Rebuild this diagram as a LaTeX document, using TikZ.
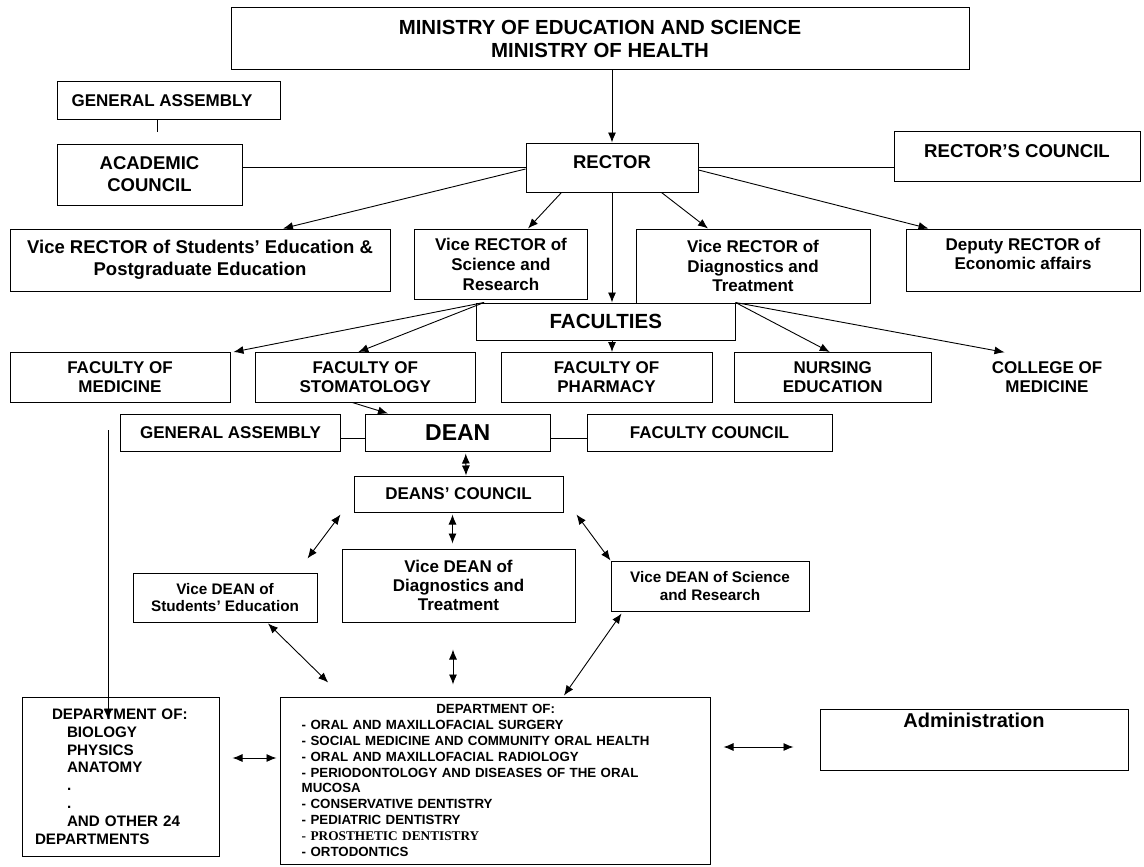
\documentclass[tikz,border=0pt]{standalone}
\usepackage{fontspec}
\setmainfont{Liberation Sans}
\newfontfamily\prosth{Liberation Serif}
\usetikzlibrary{arrows.meta,calc}
\begin{document}
\begin{tikzpicture}[x=1pt,y=-1pt,
  box/.style={draw,line width=1pt,inner sep=0pt,align=center},
  fsz/.style 2 args={font=\bfseries\fontsize{#1}{#2}\selectfont},
  wh/.style 2 args={minimum width=#1pt,minimum height=#2pt},
  conn/.style={line width=0.9pt},
  arr/.style={conn,-{Latex[length=10pt,width=8pt]}},
  darr/.style={conn,{Latex[length=10pt,width=8pt]}-{Latex[length=10pt,width=8pt]}}
]
\useasboundingbox (0,0) rectangle (1144,867);
\fill[white] (0,0) rectangle (1144,867);

% ---------- nodes ----------
\node[box,wh={738}{62},fsz={20.4}{23}] (min) at (600,39) {MINISTRY OF EDUCATION AND SCIENCE\\MINISTRY OF HEALTH};
\node[box,wh={223}{37},fsz={17}{20}] (ga1) at (168.5,100.5) {\hspace*{-13pt}GENERAL ASSEMBLY};
\node[box,wh={185}{61},fsz={18.5}{22}] (ac) at (149.5,174.5) {ACADEMIC\\COUNCIL};
\node[box,wh={172}{49},fsz={18.5}{22}] (rector) at (612,167.5) {\raisebox{5pt}[\height][\depth]{RECTOR}};
\node[box,wh={246}{50},fsz={18.6}{22}] (rc) at (1017,156) {\raisebox{5pt}[\height][\depth]{RECTOR’S COUNCIL}};

\node[box,wh={380}{62},fsz={18.5}{22}] (vrs) at (200,260) {Vice RECTOR of Students’ Education \&\\Postgraduate Education};
\node[box,wh={172.5}{70},fsz={17}{20}] (vrsci) at (501,264) {Vice RECTOR of\\Science and\\Research};
\node[box,wh={234}{74},fsz={17}{19.5}] (vrd) at (753,266) {Vice RECTOR of\\Diagnostics and\\Treatment};
\node[box,wh={234}{62},fsz={17}{19}] (dep) at (1023,260) {\raisebox{3.5pt}[\height][\depth]{\begin{tabular}{@{}c@{}}Deputy RECTOR of\\Economic affairs\end{tabular}}};

\node[box,wh={258.5}{37},fsz={20.5}{24}] (facs) at (605.75,321.5) {FACULTIES};
\node[box,wh={220}{49.5},fsz={17}{19}] (fmed) at (120,377.25) {FACULTY OF\\MEDICINE};
\node[box,wh={219.4}{49.5},fsz={17}{19}] (fsto) at (365.3,377.25) {FACULTY OF\\STOMATOLOGY};
\node[box,wh={211}{49.5},fsz={17}{19}] (fph) at (606.5,377.25) {FACULTY OF\\PHARMACY};
\node[box,wh={196.5}{49.5},fsz={17}{19}] (nur) at (832.75,377.25) {NURSING\\EDUCATION};
\node[inner sep=0pt,align=center,wh={196}{49.5},fsz={17}{19}] (col) at (1047,377.25) {COLLEGE OF\\MEDICINE};

\node[box,wh={220}{37},fsz={17}{20}] (ga2) at (230.5,432.5) {GENERAL ASSEMBLY};
\node[box,wh={184.5}{37},fsz={23}{26}] (dean) at (457.75,432.5) {DEAN};
\node[box,wh={245}{37},fsz={17}{20}] (fc) at (709.5,432.5) {FACULTY COUNCIL};
\node[box,wh={209}{36},fsz={17}{20}] (dc) at (458.5,494) {DEANS’ COUNCIL};

\node[box,wh={233}{73},fsz={17}{19}] (vdd) at (458.5,585.5) {Vice DEAN of\\Diagnostics and\\Treatment};
\node[box,wh={184}{49},fsz={15.3}{17}] (vdst) at (225,597.5) {Vice DEAN of\\Students’ Education};
\node[box,wh={198}{50},fsz={15.3}{18}] (vdsc) at (710,586) {Vice DEAN of Science\\and Research};

\node[box,wh={197}{159},fsz={15.2}{17.8},align=left,text width=171pt] (dl) at (120.5,776.5)
 {\hspace*{17pt}DEPARTMENT OF:\\
  \hspace*{32pt}BIOLOGY\\
  \hspace*{32pt}PHYSICS\\
  \hspace*{32pt}ANATOMY\\
  \hspace*{32pt}.\\
  \hspace*{32pt}.\\
  \hspace*{32pt}AND OTHER 24\\
  DEPARTMENTS};
\node[box,wh={430}{167},fsz={13.3}{15.8},align=left,text width=388pt] (dm) at (495.7,780.5)
 {\makebox[388pt]{DEPARTMENT OF:}\\
  - ORAL AND MAXILLOFACIAL SURGERY\\
  - SOCIAL MEDICINE AND COMMUNITY ORAL HEALTH\\
  - ORAL AND MAXILLOFACIAL RADIOLOGY\\
  - PERIODONTOLOGY AND DISEASES OF THE ORAL\\
  MUCOSA\\
  - CONSERVATIVE DENTISTRY\\
  - PEDIATRIC DENTISTRY\\
  {\prosth\bfseries - PROSTHETIC DENTISTRY}\\
  - ORTODONTICS};
\node[box,wh={308}{61},fsz={20}{24}] (adm) at (974,739.5) {\raisebox{19.5pt}[\height][\depth]{Administration}};

\coordinate (stub) at (157,132);
\coordinate (gl) at (108,430);
\coordinate (fs) at ($(facs.south)+(6.25,0)$);

% ---------- connectors ----------
\draw[conn] ($(ga1.south)+(-11.5,0)$) -- (stub);
\draw[arr] (rector.north |- min.south) -- (rector.north);
\draw[conn] (ac.east |- rector.west) -- (rector.west);
\draw[conn] (rector.east) -- (rc.west |- rector.east);
\draw[arr] ($(rector.west)+(0,1.5)$) -- ($(vrs.north)+(83,0)$);
\draw[arr] ($(rector.south west)+(36,0)$) -- ($(vrsci.north)+(27,0)$);
\draw[arr] (rector.south) -- (rector.south |- facs.north);
\draw[arr] ($(rector.south east)+(-37,0)$) -- ($(vrd.north)+(-45,0)$);
\draw[arr] ($(rector.east)+(0,2.5)$) -- ($(dep.north west)+(23,0)$);

\draw[arr] ($(facs.north west)+(8,0)$) -- ($(fmed.north east)+(3,0)$);
\draw[arr] ($(facs.north west)+(8,0)$) -- ($(fsto.north)+(-7,0)$);
\draw[arr] (fs) -- (fs |- fph.north);
\draw[arr] (facs.north east) -- ($(nur.north)+(-3,0)$);
\draw[arr] (facs.north east) -- ($(col.north)+(-42.5,0)$);

\draw[arr] ($(fsto.south)+(-13,0)$) -- ($(dean.north west)+(23,0)$);
\draw[conn] ($(ga2.east)+(0,5.5)$) -- ($(dean.west)+(0,5.5)$);
\draw[conn] ($(dean.east)+(0,5.5)$) -- ($(fc.west)+(0,5.5)$);
\draw[arr] (gl) -- ($(dl.north)+(-12.5,23)$);

\draw[darr] ($(dean.south)+(8,2)$) -- ($(dc.north)+(7.5,0)$);
\draw[darr] ($(dc.south)+(-6,2)$) -- ($(vdd.north)+(-6,-5)$);
\draw[darr] ($(dc.south west)+(-13,2)$) -- ($(vdst.north east)+(-10,-14)$);
\draw[darr] ($(dc.south east)+(13,2)$) -- (vdsc.north west);

\draw[darr] ($(vdst.south)+(43,1)$) -- ($(dm.north west)+(48,-14)$);
\draw[darr] ($(vdd.south)+(-5.5,27)$) -- ($(dm.north)+(-42.7,-12)$);
\draw[darr] ($(vdsc.south west)+(11,2)$) -- ($(dm.north)+(68.3,-1)$);
\draw[darr] ($(dl.east)+(13,-18.5)$) -- ($(dm.west)+(-3.7,-22.5)$);
\draw[darr] ($(dm.east)+(12.3,-33.5)$) -- ($(adm.west)+(-26,7.5)$);
\end{tikzpicture}
\end{document}
